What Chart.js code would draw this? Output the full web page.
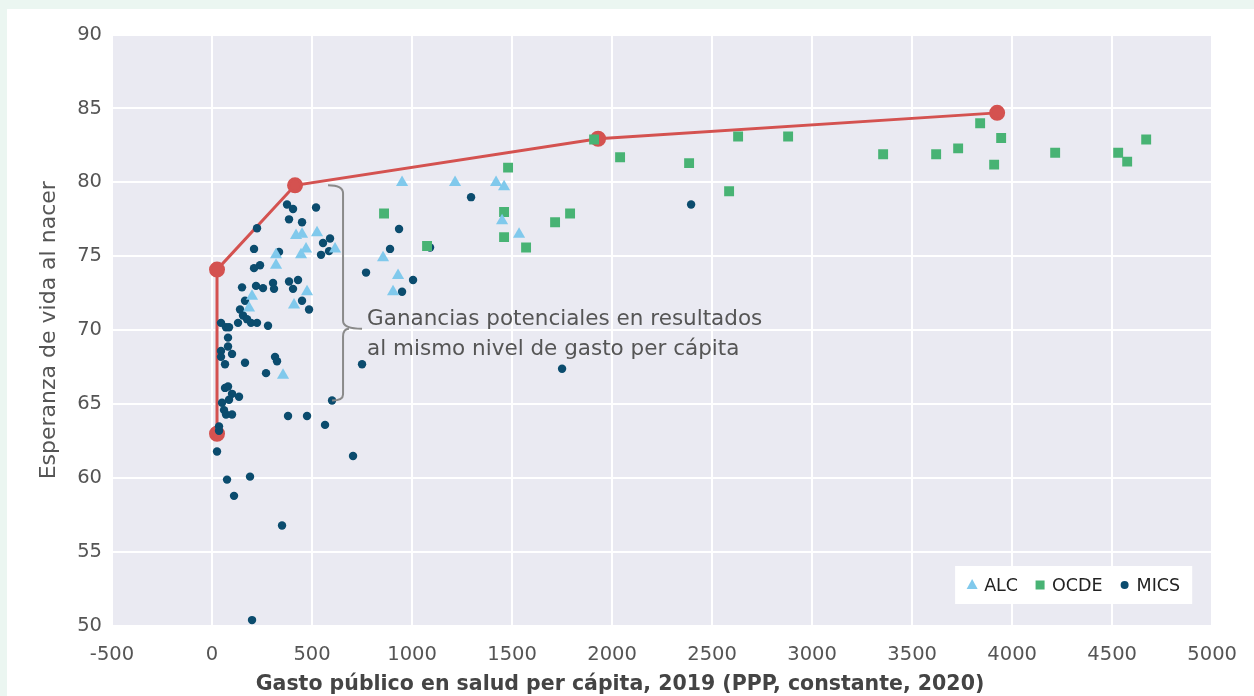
<!DOCTYPE html>
<html>
<head>
<meta charset="utf-8">
<script src="https://cdn.jsdelivr.net/npm/chart.js@4.4.1/dist/chart.umd.min.js"></script>
<style>
  html, body { margin: 0; padding: 0; background: #ebf6f1; }
  #wrap { position: absolute; left: 0; top: 0; width: 1254px; height: 696px; }
</style>
</head>
<body>
<div id="wrap"><canvas id="chart" width="1254" height="696"></canvas></div>
<script>
const xTicks = [-500, 0, 500, 1000, 1500, 2000, 2500, 3000, 3500, 4000, 4500, 5000];
const yTicks = [50, 55, 60, 65, 70, 75, 80, 85, 90];

// ALC (triangles)
const alcX = [950, 1215, 1420, 1460, 1450, 1535, 855, 930, 905, 420, 450, 525, 470, 445, 320, 320, 615, 475, 410, 200, 185, 355];
const alcY = [80.0, 80.0, 80.0, 79.7, 77.4, 76.5, 74.9, 73.7, 72.6, 76.4, 76.5, 76.6, 75.5, 75.1, 75.1, 74.4, 75.5, 72.6, 71.7, 72.3, 71.5, 66.95];

// OCDE (squares)
const ocdeX = [860, 1460, 1460, 1480, 1715, 1790, 1570, 1075, 1910, 2040, 2385, 2585, 2630, 2880, 3355, 3620, 3730, 3840, 3945, 3910, 4215, 4530, 4575, 4670];
const ocdeY = [77.9, 78.0, 76.3, 81.0, 77.3, 77.9, 75.6, 75.7, 82.9, 81.7, 81.3, 79.4, 83.1, 83.1, 81.9, 81.9, 82.3, 84.0, 83.0, 81.2, 82.0, 82.0, 81.4, 82.9];

// MICS (circles)
const micsX = [375, 405, 520, 385, 450, 225, 590, 555, 585, 545, 210, 335, 240, 210, 770, 150, 220, 255, 305, 310,
  385, 430, 405, 165, 450, 485, 140, 155, 175, 195, 225, 280, 130, 45, 70, 85, 80, 80, 45, 45,
  100, 65, 165, 315, 325, 270, 750, 65, 80, 100, 135, 85, 50, 60, 70, 100, 380, 475, 565, 600,
  35, 35, 25, 705, 75, 190, 110, 350, 200, 1295, 935, 890, 1090, 1005, 950, 1750, 2395];
const micsY = [78.5, 78.2, 78.3, 77.5, 77.3, 76.9, 76.2, 75.9, 75.35, 75.1, 75.5, 75.3, 74.4, 74.2, 73.9, 72.9, 73.0, 72.85, 73.2, 72.8,
  73.3, 73.4, 72.8, 72.0, 72.0, 71.4, 71.4, 71.0, 70.75, 70.5, 70.5, 70.3, 70.5, 70.5, 70.2, 70.2, 69.5, 68.9, 68.6, 68.2,
  68.4, 67.7, 67.8, 68.2, 67.9, 67.1, 67.7, 66.1, 66.2, 65.7, 65.5, 65.3, 65.1, 64.6, 64.3, 64.3, 64.2, 64.2, 63.6, 65.25,
  63.5, 63.2, 61.8, 61.5, 59.9, 60.1, 58.8, 56.8, 50.4, 79.0, 76.85, 75.5, 75.6, 73.4, 72.6, 67.4, 78.5];

// frontera de eficiencia
const frontX = [25, 25, 415, 1930, 3925];
const frontY = [63.0, 74.1, 79.8, 82.95, 84.7];

const noteLines = ['Ganancias potenciales en resultados', 'al mismo nivel de gasto per cápita'];
const xTitle = 'Gasto público en salud per cápita, 2019 (PPP, constante, 2020)';

function pts(xs, ys) {
    return xs.map((x, i) => ({ x: x, y: ys[i] }));
}

const FONT = '"DejaVu Sans", "Open Sans", sans-serif';

const backgroundPlugin = {
    id: 'bg',
    beforeDraw(chart) {
        const c = chart.ctx;
        const a = chart.chartArea;
        c.save();
        c.fillStyle = '#ebf6f1';
        c.fillRect(0, 0, chart.width, chart.height);
        c.fillStyle = '#ffffff';
        c.fillRect(7, 9, chart.width - 7, chart.height - 9);
        c.fillStyle = '#eaeaf2';
        c.fillRect(a.left, a.top, a.right - a.left, a.bottom - a.top);
        c.restore();
    },
    afterDraw(chart) {
        // título del eje x, centrado en la tarjeta
        const c = chart.ctx;
        c.save();
        c.fillStyle = '#444444';
        c.font = 'bold 20.5px ' + FONT;
        c.textAlign = 'center';
        c.textBaseline = 'middle';
        c.fillText(xTitle, chart.width / 2 - 7, chart.height - 11);
        c.restore();
    }
};

// llave y texto de la anotación
const notePlugin = {
    id: 'note',
    afterDatasetsDraw(chart) {
        const c = chart.ctx;
        const xs = chart.scales.x, ys = chart.scales.y;
        const xl = xs.getPixelForValue(580), xv = xs.getPixelForValue(655), xt = xs.getPixelForValue(750);
        const xb = xs.getPixelForValue(600);
        const yt = ys.getPixelForValue(79.8), ym = ys.getPixelForValue(70.1), yb = ys.getPixelForValue(65.25);
        c.save();
        c.strokeStyle = '#8a8a8a';
        c.lineWidth = 2;
        c.beginPath();
        c.moveTo(xl, yt);
        c.quadraticCurveTo(xv, yt, xv, yt + 8);
        c.lineTo(xv, ym - 8);
        c.quadraticCurveTo(xv, ym, xt, ym);
        c.moveTo(xv + 6, ym);
        c.quadraticCurveTo(xv, ym, xv, ym + 8);
        c.lineTo(xv, yb - 6);
        c.quadraticCurveTo(xv, yb, xb, yb);
        c.stroke();

        c.fillStyle = '#555555';
        c.font = '21.5px ' + FONT;
        c.textAlign = 'left';
        c.textBaseline = 'middle';
        const tx = xs.getPixelForValue(775);
        c.fillText(noteLines[0], tx, ys.getPixelForValue(70.7));
        c.fillText(noteLines[1], tx, ys.getPixelForValue(68.7));
        c.restore();
    }
};

// leyenda dentro del área del gráfico, abajo a la derecha
const legendPlugin = {
    id: 'boxLegend',
    afterDraw(chart) {
        const c = chart.ctx;
        const a = chart.chartArea;
        const items = chart.data.datasets.filter(d => d.inLegend);
        c.save();
        c.font = '17.5px ' + FONT;
        c.textBaseline = 'middle';
        const widths = items.map(d => c.measureText(d.label).width);
        const gap = 17, markW = 10, markGap = 7, padX = 12;
        let total = padX * 2;
        widths.forEach((w, i) => { total += markW + markGap + w + (i ? gap : 0); });
        const h = 38;
        const right = a.right - 20, bottom = a.bottom - 22;
        const left = right - total, top = bottom - h;
        c.fillStyle = '#ffffff';
        c.fillRect(left, top, total, h);
        let x = left + padX;
        const cy = top + h / 2;
        items.forEach((d, i) => {
            if (i) x += gap;
            c.fillStyle = d.backgroundColor;
            const mx = x + markW / 2;
            if (d.pointStyle === 'triangle') {
                c.beginPath();
                c.moveTo(mx, cy - 6);
                c.lineTo(mx + 5.5, cy + 4);
                c.lineTo(mx - 5.5, cy + 4);
                c.closePath();
                c.fill();
            } else if (d.pointStyle === 'rect') {
                c.fillRect(mx - 4.5, cy - 4.5, 9, 9);
            } else {
                c.beginPath();
                c.arc(mx, cy, 4, 0, Math.PI * 2);
                c.fill();
            }
            x += markW + markGap;
            c.fillStyle = '#222222';
            c.fillText(d.label, x, cy + 1);
            x += widths[i];
        });
        c.restore();
    }
};

const ctx = document.getElementById('chart').getContext('2d');
const chart = new Chart(ctx, {
    type: 'scatter',
    data: {
        datasets: [
            {
                label: 'ALC', inLegend: true,
                data: pts(alcX, alcY),
                pointStyle: 'triangle', pointRadius: 7,
                backgroundColor: '#80c9ec', borderColor: '#80c9ec', borderWidth: 0
            },
            {
                label: 'OCDE', inLegend: true,
                data: pts(ocdeX, ocdeY),
                pointStyle: 'rect', pointRadius: 7,
                backgroundColor: '#48b374', borderColor: '#48b374', borderWidth: 0
            },
            {
                label: 'MICS', inLegend: true,
                data: pts(micsX, micsY),
                pointStyle: 'circle', pointRadius: 4.2,
                backgroundColor: '#0b4c6e', borderColor: '#0b4c6e', borderWidth: 0
            },
            {
                label: 'Frontera',
                data: pts(frontX, frontY),
                showLine: true,
                borderColor: '#d45250', backgroundColor: '#d45250',
                borderWidth: 3, pointRadius: 6.5, pointStyle: 'circle'
            }
        ]
    },
    options: {
        responsive: false,
        animation: false,
        layout: { padding: { top: 34.5, right: 40, left: 36, bottom: 0 } },
        plugins: {
            legend: { display: false },
            tooltip: { enabled: false }
        },
        scales: {
            x: {
                type: 'linear', min: -500, max: 5000,
                afterBuildTicks: s => { s.ticks = xTicks.map(v => ({ value: v })); },
                afterFit: s => { s.height = 70; },
                grid: { color: '#ffffff', lineWidth: 2, drawTicks: false },
                border: { display: false },
                ticks: {
                    color: '#555555', font: { size: 19.5, family: FONT }, padding: 17, maxRotation: 0,
                    callback: v => String(v)
                }
            },
            y: {
                type: 'linear', min: 50, max: 90,
                afterBuildTicks: s => { s.ticks = yTicks.map(v => ({ value: v })); },
                afterFit: s => { s.width = 112 - 36; },
                grid: { color: '#ffffff', lineWidth: 2, drawTicks: false },
                border: { display: false },
                ticks: { color: '#555555', font: { size: 19.5, family: FONT }, padding: 10, callback: v => String(v) },
                title: {
                    display: true,
                    text: 'Esperanza de vida al nacer',
                    color: '#555555',
                    font: { size: 22, family: FONT },
                    padding: { top: 0, bottom: 0 }
                }
            }
        }
    },
    plugins: [backgroundPlugin, notePlugin, legendPlugin]
});
</script>
</body>
</html>
